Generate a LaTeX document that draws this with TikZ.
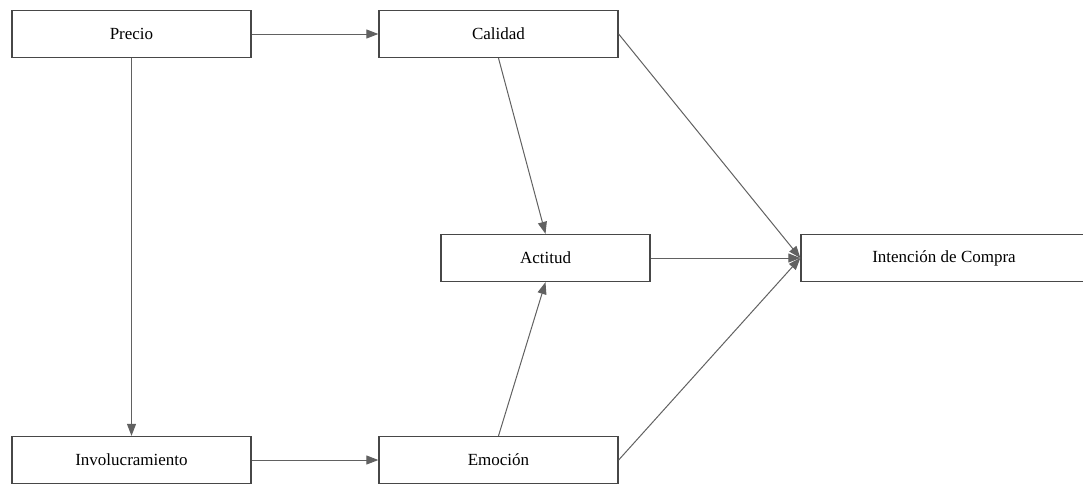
\documentclass[tikz,border=0pt]{standalone}
\usepackage{fontspec}
\setmainfont{Liberation Serif}
\usetikzlibrary{arrows.meta}
\begin{document}
\begin{tikzpicture}[x=1pt,y=-1pt,
  box/.style={draw=black!72,line width=1.3pt,fill=white,minimum height=47pt,inner sep=0pt,font=\fontsize{17}{19}\selectfont},
  link/.style={draw=black!62,line width=1pt,-{Triangle[length=12pt,width=9pt]}}]
\useasboundingbox (0,0) rectangle (1083,483);
\clip (0,0) rectangle (1083,483);
\node[box,minimum width=239pt] (precio) at (131.5,34) {Precio};
\node[box,minimum width=239pt] (calidad) at (498.5,34) {Calidad};
\node[box,minimum width=209pt] (actitud) at (545.5,258) {Actitud};
\node[box,minimum width=286pt] (intencion) at (944,258) {Intención de Compra};
\node[box,minimum width=239pt] (invol) at (131.5,460) {Involucramiento};
\node[box,minimum width=239pt] (emocion) at (498.5,460) {Emoción};
\draw[link] (precio.east) -- (calidad.west);
\draw[link] (precio.south) -- (invol.north);
\draw[link] (invol.east) -- (emocion.west);
\draw[link] (calidad.south) -- (actitud.north);
\draw[link] (emocion.north) -- (actitud.south);
\draw[link] (calidad.east) -- (intencion.west);
\draw[link] (actitud.east) -- (intencion.west);
\draw[link] (emocion.east) -- (intencion.west);
\end{tikzpicture}
\end{document}
